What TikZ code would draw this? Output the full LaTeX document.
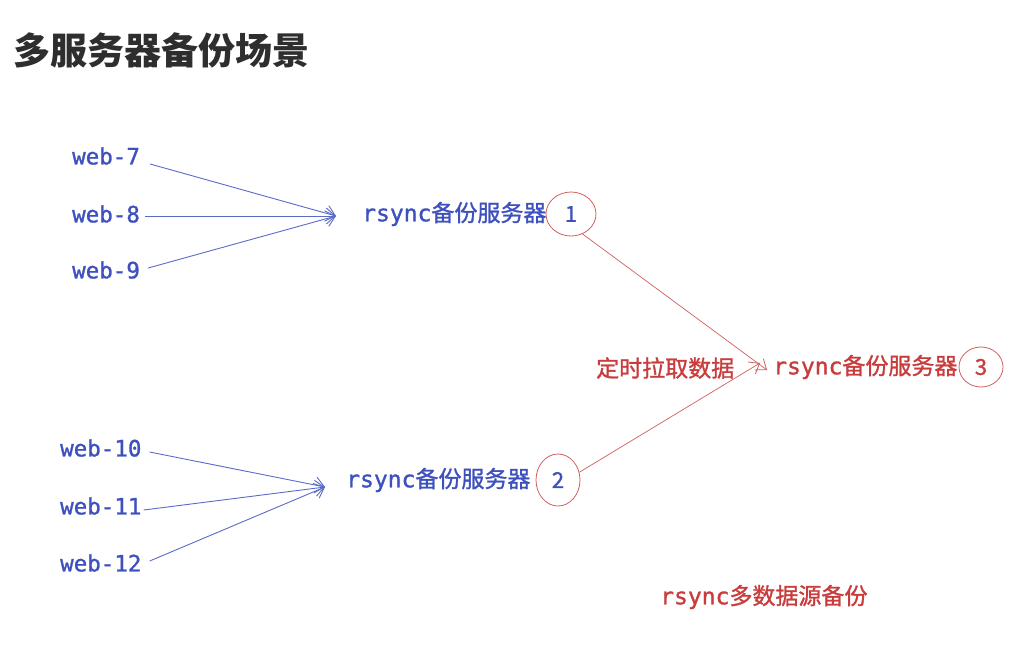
\documentclass[tikz,border=0pt]{standalone}
\usepackage{fontspec}
\usetikzlibrary{arrows.meta,shapes.geometric}
\newfontfamily\cjk{Noto Sans CJK SC}
\newfontfamily\cjkm[FakeBold=1.2]{Noto Sans CJK SC}
\newfontfamily\mono[FakeBold=1.2]{DejaVu Sans Mono}
\definecolor{bluetxt}{HTML}{3E50BE}
\definecolor{bluearr}{HTML}{5A6CC8}
\definecolor{redtxt}{HTML}{C83C3C}
\definecolor{redarr}{HTML}{D06060}
\definecolor{titlecol}{HTML}{2E2E2E}
\begin{document}
\begin{tikzpicture}[x=1pt,y=-1pt,
  lab/.style={inner sep=0pt,anchor=west,font=\fontsize{23}{24}\selectfont},
  web/.style={lab,text=bluetxt,font=\mono\fontsize{22.5}{24}\selectfont},
  barrow/.style={draw=bluearr,line width=0.9pt,-{Straight Barb[length=9pt,width=16pt,line width=0.9pt]}},
  rarrow/.style={draw=redarr,line width=0.7pt,-{Straight Barb[length=9pt,width=14pt,line width=0.8pt]}},
  ring/.style={draw=redarr,ellipse,line width=0.8pt,inner sep=0pt,font=\cjkm\fontsize{22}{24}\selectfont}]
\useasboundingbox[fill=white] (0,0) rectangle (1024,649);
% title
\node[anchor=west,inner sep=0pt,text=titlecol,font=\cjk\bfseries\fontsize{37}{38}\selectfont] (title) at (13,50) {多服务器备份场景};
% web group 1
\node[web] (w7) at (72,156) {web-7};
\node[web] (w8) at (72,214) {web-8};
\node[web] (w9) at (72,270) {web-9};
\node[lab,text=bluetxt] (s1) at (362,214) {{\mono rsync}{\cjkm 备份服务器}};
\node[ring,text=bluetxt,minimum width=50pt,minimum height=44pt] (c1) at (571,214) {1};
\coordinate (t1) at (336,216);
\draw[barrow] (w7.east)++(10,8) -- (t1);
\draw[barrow] (w8.east)++(5,2) -- (t1);
\draw[barrow] (w9.east)++(8,-2) -- (t1);
% web group 2
\node[web] (w10) at (60,448) {web-10};
\node[web] (w11) at (60,506) {web-11};
\node[web] (w12) at (60,563) {web-12};
\node[lab,text=bluetxt] (s2) at (346,480) {{\mono rsync}{\cjkm 备份服务器}};
\node[ring,text=bluetxt,minimum width=44pt,minimum height=52pt] (c2) at (558,480) {2};
\coordinate (t2) at (325,487);
\draw[barrow] (w10.east)++(8,4) -- (t2);
\draw[barrow] (w11.east)++(2,4) -- (t2);
\draw[barrow] (w12.east)++(8,-2) -- (t2);
% server 3
\node[lab,text=redtxt] (s3) at (773,367) {{\mono rsync}{\cjkm 备份服务器}};
\node[ring,text=redtxt,minimum width=44pt,minimum height=40pt] (c3) at (981,367) {3};
\node[lab,text=redtxt,font=\cjkm\fontsize{23}{24}\selectfont] (pull) at (596,368) {定时拉取数据};
\draw[rarrow] (c1.-60) -- ([xshift=-6pt,yshift=-3pt]s3.west);
\draw[rarrow] (c2.20) -- ([xshift=-13pt,yshift=4pt]s3.west);
% caption
\node[lab,text=redtxt] (cap) at (660,597) {{\mono rsync}{\cjkm 多数据源备份}};
\end{tikzpicture}
\end{document}
